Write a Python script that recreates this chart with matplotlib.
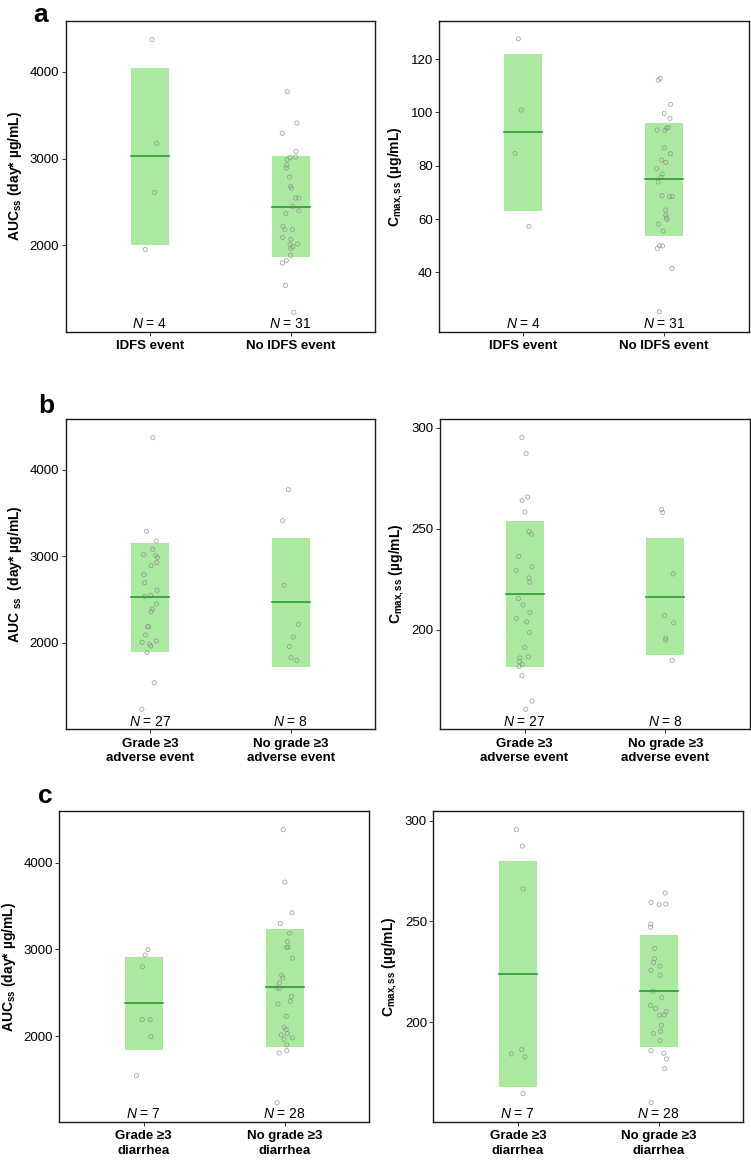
import numpy as np
import matplotlib
matplotlib.use("Agg")
import matplotlib.pyplot as plt

plt.rcParams['font.family'] = ['Liberation Sans', 'DejaVu Sans']
plt.rcParams['mathtext.fontset'] = 'custom'
plt.rcParams['mathtext.rm'] = 'Liberation Sans'
plt.rcParams['mathtext.bf'] = 'Liberation Sans:bold'
plt.rcParams['mathtext.it'] = 'Liberation Sans:italic'

# ---------------- data ----------------
# Panel a: IDFS event
a_groups = ["IDFS event", "No IDFS event"]
a_auc_g1 = [4369, 3175, 2610, 1954]
a_auc_g2 = [3770, 3409, 3290, 3083, 3017, 3010, 2987, 2925, 2891, 2787, 2679,
            2656, 2545, 2545, 2449, 2399, 2365, 2184, 2184, 2219, 2092, 2069,
            2008, 2015, 1985, 1965, 1885, 1827, 1797, 1539, 1228]
a_auc_lo = [2004, 1866]
a_auc_med = [3025, 2445]
a_auc_hi = [4046, 3025]

a_cmax_g1 = [127.6, 100.9, 84.6, 57.25]
a_cmax_g2 = [112.1, 112.75, 103.0, 99.6, 97.75, 94.1, 94.4, 93.4, 93.25, 86.75,
             84.5, 82.1, 81.25, 78.9, 76.9, 75.6, 73.9, 68.4, 68.75, 68.5, 63.4,
             61.5, 60.4, 59.9, 58.1, 55.5, 50.0, 49.9, 48.9, 41.5, 25.25]
a_cmax_lo = [63.1, 53.6]
a_cmax_med = [92.5, 74.9]
a_cmax_hi = [121.9, 96.0]

# Panel b: grade >=3 adverse event
b_groups = ["Grade \u22653\nadverse event", "No grade \u22653\nadverse event"]
b_auc_g1 = [4374, 3291, 3179, 3083, 3021, 3013, 2990, 2929, 2894, 2790, 2697,
            2609, 2547, 2540, 2451, 2393, 2362, 2189, 2189, 2092, 2008, 2023,
            1988, 1965, 1888, 1541, 1233]
b_auc_g2 = [3773, 3414, 2667, 2216, 2069, 1958, 1830, 1800]
b_auc_lo = [1896, 1719]
b_auc_med = [2528, 2470]
b_auc_hi = [3156, 3210]

b_cmax_g1 = [295.1, 287.2, 265.7, 263.9, 258.3, 248.6, 247.3, 236.4, 231.3,
             229.5, 225.7, 223.6, 215.5, 212.4, 208.6, 205.6, 204.0, 198.7,
             191.4, 186.7, 186.2, 184.3, 183.0, 182.0, 177.4, 164.9, 160.8]
b_cmax_g2 = [258.0, 259.5, 227.7, 207.1, 203.5, 195.9, 194.9, 185.0]
b_cmax_lo = [181.5, 187.5]
b_cmax_med = [217.6, 216.5]
b_cmax_hi = [253.7, 245.3]

# Panel c: grade >=3 diarrhea
c_groups = ["Grade \u22653\ndiarrhea", "No grade \u22653\ndiarrhea"]
c_auc_g1 = [3000, 2935, 2800, 2192, 2192, 1996, 1546]
c_auc_g2 = [4381, 3777, 3423, 3300, 3188, 3092, 3027, 3023, 2900, 2704, 2673,
            2615, 2558, 2550, 2458, 2404, 2373, 2231, 2104, 2077, 2031, 2015,
            1981, 1965, 1900, 1835, 1808, 1235]
c_auc_lo = [1838, 1877]
c_auc_med = [2381, 2562]
c_auc_hi = [2919, 3238]

c_cmax_g1 = [295.5, 287.4, 266.1, 186.4, 184.3, 182.8, 164.6]
c_cmax_g2 = [264.1, 258.3, 258.6, 259.4, 248.7, 247.2, 236.6, 231.5, 229.6,
             227.8, 225.8, 223.3, 215.4, 212.3, 208.3, 206.8, 205.3, 203.5,
             203.6, 198.5, 195.5, 194.4, 190.9, 185.9, 184.6, 181.8, 177.0, 160.1]
c_cmax_lo = [167.7, 187.7]
c_cmax_med = [223.8, 215.4]
c_cmax_hi = [280.1, 243.4]

auc_ticks = [2000, 3000, 4000]
cmax_ticks_a = [40, 60, 80, 100, 120]
cmax_ticks_bc = [200, 250, 300]

# ---------------- figure ----------------
W, H = 751, 1160
fig = plt.figure(figsize=(W / 100, H / 100), dpi=100)

BAR_COLOR = '#abe9a1'
MED_COLOR = '#2a9a35'
PT_EDGE = '#8a8a8a'

rng = np.random.default_rng(7)

auc_label = r'$\mathbf{AUC}_{\mathbf{ss}}$ (day* µg/mL)'
auc_label_b = r'$\mathbf{AUC}\ _{\mathbf{ss}}$  (day* µg/mL)'
cmax_label = r'$\mathbf{C}_{\mathbf{max,ss}}$ (µg/mL)'


def px_axes(x0, y0, x1, y1):
    return fig.add_axes([x0 / W, 1 - y1 / H, (x1 - x0) / W, (y1 - y0) / H])


def draw_panel(ax, groups, g1, g2, lo, med, hi, ylim, yticks, ylabel):
    width = 0.27
    data = [g1, g2]
    for i, vals in enumerate(data):
        xc = i + 1
        ax.bar(xc, hi[i] - lo[i], bottom=lo[i], width=width, color=BAR_COLOR,
               edgecolor='none', zorder=1)
        ax.plot([xc - width / 2, xc + width / 2], [med[i], med[i]],
                color=MED_COLOR, lw=1.2, zorder=3)
        jit = rng.uniform(-0.06, 0.06, len(vals))
        ax.scatter(xc + jit, vals, s=9, facecolors='none', edgecolors=PT_EDGE,
                   linewidths=0.55, alpha=0.8, zorder=2)
        ax.text(xc, 0.012, f'$N$ = {len(vals)}', transform=ax.get_xaxis_transform(),
                ha='center', va='baseline', fontsize=10)
    ax.set_xlim(0.4, 2.6)
    ax.set_ylim(*ylim)
    ax.set_xticks([1, 2])
    ax.set_xticklabels(groups, fontsize=10, fontweight='bold', linespacing=1.3)
    ax.set_yticks(yticks)
    ax.tick_params(axis='both', direction='out', length=3, width=0.7,
                   color='#333333', labelsize=9.5)
    ax.tick_params(axis='x', pad=3)
    ax.tick_params(axis='y', pad=1.5)
    for sp in ax.spines.values():
        sp.set_linewidth(1.0)
        sp.set_color('#1a1a1a')
    ax.set_ylabel(ylabel, fontsize=10, fontweight='bold', labelpad=4)


# panel a
ax = px_axes(65.5, 20.7, 375, 331.7)
draw_panel(ax, a_groups, a_auc_g1, a_auc_g2, a_auc_lo, a_auc_med, a_auc_hi,
           (1006, 4587), auc_ticks, auc_label)
ax = px_axes(439, 20.7, 748.5, 331.7)
draw_panel(ax, a_groups, a_cmax_g1, a_cmax_g2, a_cmax_lo, a_cmax_med, a_cmax_hi,
           (17.75, 134.4), cmax_ticks_a, cmax_label)

# panel b
ax = px_axes(65.5, 418.7, 375, 729.3)
draw_panel(ax, b_groups, b_auc_g1, b_auc_g2, b_auc_lo, b_auc_med, b_auc_hi,
           (1002, 4593), auc_ticks, auc_label_b)
ax = px_axes(440, 418.7, 750, 729.3)
draw_panel(ax, b_groups, b_cmax_g1, b_cmax_g2, b_cmax_lo, b_cmax_med, b_cmax_hi,
           (150.9, 304.4), cmax_ticks_bc, cmax_label)

# panel c
ax = px_axes(59.3, 811, 369, 1122)
draw_panel(ax, c_groups, c_auc_g1, c_auc_g2, c_auc_lo, c_auc_med, c_auc_hi,
           (1012, 4596), auc_ticks, auc_label)
ax = px_axes(433.3, 811, 743.3, 1122)
draw_panel(ax, c_groups, c_cmax_g1, c_cmax_g2, c_cmax_lo, c_cmax_med, c_cmax_hi,
           (150.5, 304.8), cmax_ticks_bc, cmax_label)

# panel letters
for letter, xp, yp in [('a', 33, 22), ('b', 38, 413), ('c', 38, 803)]:
    fig.text(xp / W, 1 - yp / H, letter, fontsize=19, fontweight='bold',
             ha='left', va='baseline')

fig.savefig('out.png', dpi=100)
